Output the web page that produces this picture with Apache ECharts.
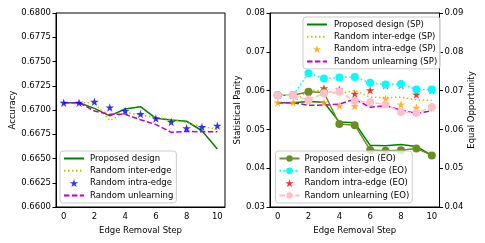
<!DOCTYPE html>
<html><head><meta charset="utf-8">
<script src="https://cdn.jsdelivr.net/npm/echarts@6/dist/echarts.min.js"></script>
<style>html,body{margin:0;padding:0;background:#fff}#c{width:485px;height:243px}</style>
</head><body><div id="c"></div>
<script>
const steps = ['0','1','2','3','4','5','6','7','8','9','10'];
const accTicks = [0.66, 0.68, 0.0025];
const spTicks = [0.03, 0.08, 0.01];
const eoTicks = [0.04, 0.09, 0.01];

const accProposed = [0.67075, 0.67075, 0.67017, 0.66940, 0.67010, 0.67034, 0.66914, 0.66897, 0.66884, 0.66786, 0.66598];
const accInter    = [0.67075, 0.67075, 0.67075, 0.66890, 0.66976, 0.66950, 0.66921, 0.66904, 0.66870, 0.66829, 0.66801];
const accIntra    = [0.67075, 0.67075, 0.67085, 0.67025, 0.66990, 0.66959, 0.66912, 0.66877, 0.66813, 0.66825, 0.66837];
const accUnlearn  = [0.67075, 0.67075, 0.66990, 0.66955, 0.66955, 0.66900, 0.66850, 0.66770, 0.66780, 0.66775, 0.66775];

const spProposed = [0.0569, 0.0569, 0.0572, 0.0570, 0.0519, 0.0517, 0.0459, 0.0458, 0.0461, 0.0456, 0.0433];
const spInter    = [0.0569, 0.0569, 0.0601, 0.0600, 0.0591, 0.0601, 0.0583, 0.0582, 0.0583, 0.0576, 0.0575];
const spIntra    = [0.0569, 0.0569, 0.0573, 0.0569, 0.0561, 0.0560, 0.0569, 0.0579, 0.0564, 0.0556, 0.0556];
const spUnlearn  = [0.0569, 0.0569, 0.0562, 0.0563, 0.0565, 0.0578, 0.0557, 0.0561, 0.0550, 0.0541, 0.0548];

const eoProposed = [0.0688, 0.0688, 0.0697, 0.0695, 0.0614, 0.0611, 0.0547, 0.0545, 0.0546, 0.0551, 0.0533];
const eoInter    = [0.0688, 0.0688, 0.0745, 0.0731, 0.0734, 0.0735, 0.0720, 0.0716, 0.0717, 0.0703, 0.0703];
const eoIntra    = [0.0688, 0.0688, 0.0697, 0.0706, 0.0703, 0.0692, 0.0701, 0.0714, 0.0714, 0.0690, 0.0701];
const eoUnlearn  = [0.0688, 0.0688, 0.0676, 0.0693, 0.0697, 0.0673, 0.0670, 0.0664, 0.0645, 0.0642, 0.0658];

const FONT = 'DejaVu Sans';
const FS = 8.5;
const STAR = 'path://M0,-10L2.245,-3.09L9.51,-3.09L3.633,1.18L5.878,8.09L0,3.82L-5.878,8.09L-3.633,1.18L-9.51,-3.09L-2.245,-3.09Z';
const DASH = [5.5, 2.4];
const DOT = [1.5, 2.5];

function xAx(gi) {
  return {
    type: 'category', gridIndex: gi, data: steps, boundaryGap: true,
    name: 'Edge Removal Step', nameLocation: 'middle', nameGap: 17,
    nameTextStyle: {fontFamily: FONT, fontSize: FS, color: '#000'},
    axisLine: {lineStyle: {color: '#000', width: 1}},
    axisTick: {alignWithLabel: true, interval: 1, length: 3.5, lineStyle: {color: '#000'}},
    axisLabel: {interval: 1, margin: 5, fontFamily: FONT, fontSize: FS, color: '#000'},
    splitLine: {show: false}
  };
}
function yAx(gi, t, name, pos, dec, gap) {
  return {
    type: 'value', gridIndex: gi, position: pos, min: t[0], max: t[1], interval: t[2],
    name: name, nameLocation: 'middle', nameGap: gap, nameRotate: 90,
    nameTextStyle: {fontFamily: FONT, fontSize: FS, color: '#000'},
    axisLine: {show: true, lineStyle: {color: '#000', width: 1}},
    axisTick: {show: true, length: 3.5, lineStyle: {color: '#000'}},
    axisLabel: {margin: 5, fontFamily: FONT, fontSize: FS, color: '#000', formatter: v => v.toFixed(dec)},
    splitLine: {show: false}
  };
}
function lineS(name, data, xi, yi, color, type) {
  return {
    name, type: 'line', data, xAxisIndex: xi, yAxisIndex: yi,
    symbol: 'none', lineStyle: {color, width: 1.5, type},
    itemStyle: {color, opacity: 0}, animation: false
  };
}
function starS(name, data, xi, yi, color) {
  return {name, type: 'scatter', data, xAxisIndex: xi, yAxisIndex: yi,
    symbol: STAR, symbolSize: 8.5, itemStyle: {color}, animation: false, z: 3};
}
function circS(name, data, xi, yi, color, type) {
  return {name, type: 'line', data, xAxisIndex: xi, yAxisIndex: yi,
    symbol: 'circle', symbolSize: 8, showAllSymbol: true,
    lineStyle: {color, width: 1.5, type}, itemStyle: {color, borderWidth: 0},
    animation: false, z: 4};
}
function leg(items, left, top, iw, gap) {
  return {
    data: items.map(it => it.noMark ? {name: it.name, itemStyle: {opacity: 0}} : {name: it.name}),
    orient: 'vertical', left, top, itemWidth: iw, itemHeight: 8, itemGap: 2.3,
    padding: [2.5, 3, 2.5, 3], selectedMode: false,
    backgroundColor: 'rgba(255,255,255,0.8)', borderColor: '#cccccc', borderWidth: 1, borderRadius: 3,
    textStyle: {fontFamily: FONT, fontSize: FS, color: '#000', lineHeight: 10, padding: [0, 0, 0, gap - 5]},
    z: 10
  };
}

const option = {
  backgroundColor: '#fff',
  animation: false,
  grid: [
    {left: 56, right: 260, top: 13, bottom: 36, show: true, borderColor: '#000', borderWidth: 1, backgroundColor: 'transparent'},
    {left: 270, right: 45.5, top: 13, bottom: 36, show: true, borderColor: '#000', borderWidth: 1, backgroundColor: 'transparent'}
  ],
  xAxis: [xAx(0), xAx(1)],
  yAxis: [
    yAx(0, accTicks, 'Accuracy', 'left', 4, 37),
    yAx(1, spTicks, 'Statistical Parity', 'left', 2, 21),
    yAx(1, eoTicks, 'Equal Opportunity', 'right', 2, 27)
  ],
  legend: [
    leg([{name: 'Proposed design', noMark: true}, {name: 'Random inter-edge', noMark: true}, {name: 'Random intra-edge'}, {name: 'Random unlearning', noMark: true}], 60, 151, 20, 6),
    leg([{name: 'Proposed design (SP)', noMark: true}, {name: 'Random inter-edge (SP)', noMark: true}, {name: 'Random intra-edge (SP)'}, {name: 'Random unlearning (SP)', noMark: true}], 303, 17, 20, 7),
    leg([{name: 'Proposed design (EO)'}, {name: 'Random inter-edge (EO)'}, {name: 'Random intra-edge (EO)'}, {name: 'Random unlearning (EO)'}], 275.5, 151, 20, 5)
  ],
  series: [
    lineS('Proposed design', accProposed, 0, 0, '#008000', 'solid'),
    lineS('Random inter-edge', accInter, 0, 0, '#bfbf00', DOT),
    starS('Random intra-edge', accIntra, 0, 0, '#0000ff'),
    lineS('Random unlearning', accUnlearn, 0, 0, '#bf00bf', DASH),

    lineS('Proposed design (SP)', spProposed, 1, 1, '#008000', 'solid'),
    lineS('Random inter-edge (SP)', spInter, 1, 1, '#bcbd22', DOT),
    starS('Random intra-edge (SP)', spIntra, 1, 1, '#ffa500'),
    lineS('Random unlearning (SP)', spUnlearn, 1, 1, '#bf00bf', DASH),

    circS('Proposed design (EO)', eoProposed, 1, 2, '#6b8e23', 'solid'),
    circS('Random inter-edge (EO)', eoInter, 1, 2, '#00ffff', DOT),
    starS('Random intra-edge (EO)', eoIntra, 1, 2, '#ff0000'),
    circS('Random unlearning (EO)', eoUnlearn, 1, 2, '#ffc0cb', DASH)
  ]
};
const chart = echarts.init(document.getElementById('c'), null, {renderer: 'canvas'});
chart.setOption(option);
</script></body></html>
